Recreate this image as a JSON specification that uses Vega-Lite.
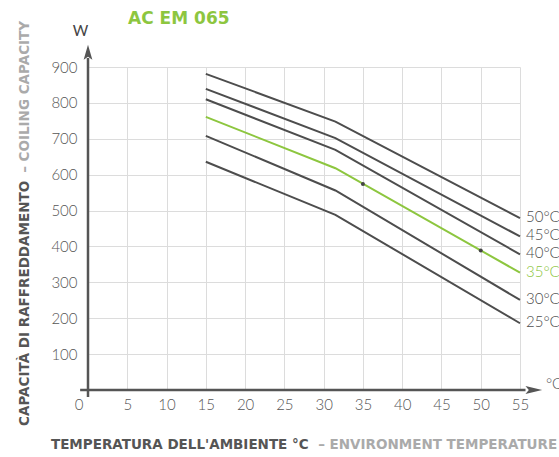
{
  "$schema": "https://vega.github.io/schema/vega-lite/v6.json",
  "width": 432,
  "height": 323,
  "autosize": "none",
  "padding": {"left": 88, "top": 67, "right": 39, "bottom": 67},
  "background": "white",
  "config": {"view": {"stroke": null}, "axis": {"labelOverlap": false, "labelFlush": false}},
  "datasets": {
    "curves": [
      {"series": "50°C", "temp": 15, "watt": 881},
      {"series": "50°C", "temp": 31.5, "watt": 748},
      {"series": "50°C", "temp": 55, "watt": 479},
      {"series": "45°C", "temp": 15, "watt": 839},
      {"series": "45°C", "temp": 31.5, "watt": 702},
      {"series": "45°C", "temp": 55, "watt": 428},
      {"series": "40°C", "temp": 15, "watt": 810},
      {"series": "40°C", "temp": 31.5, "watt": 669},
      {"series": "40°C", "temp": 55, "watt": 378},
      {"series": "35°C", "temp": 15, "watt": 761},
      {"series": "35°C", "temp": 31.5, "watt": 618},
      {"series": "35°C", "temp": 55, "watt": 327},
      {"series": "30°C", "temp": 15, "watt": 708},
      {"series": "30°C", "temp": 31.5, "watt": 556},
      {"series": "30°C", "temp": 55, "watt": 251},
      {"series": "25°C", "temp": 15, "watt": 636},
      {"series": "25°C", "temp": 31.5, "watt": 488},
      {"series": "25°C", "temp": 55, "watt": 186}
    ],
    "dots": [
      {"temp": 35, "watt": 574},
      {"temp": 50, "watt": 389}
    ],
    "one": [{}]
  },
  "encoding": {
    "x": {
      "type": "quantitative",
      "scale": {"domain": [0, 55], "nice": false, "zero": false},
      "axis": {
        "values": [0, 5, 10, 15, 20, 25, 30, 35, 40, 45, 50, 55],
        "tickCount": 12,
        "title": null, "domain": false, "ticks": false,
        "grid": true, "gridColor": "#dcdcdc", "gridWidth": 1,
        "labelFont": "Lato", "labelFontWeight": 300, "labelFontSize": 15, "labelColor": "#555555",
        "labelPadding": 7, "labelFlush": false, "labelOverlap": false,
        "labelOffset": {"condition": {"test": "datum.value === 0", "value": -9.5}, "value": 0}
      }
    },
    "y": {
      "type": "quantitative",
      "scale": {"domain": [0, 900], "nice": false, "zero": false},
      "axis": {
        "values": [100, 200, 300, 400, 500, 600, 700, 800, 900],
        "title": null, "domain": false, "ticks": false,
        "grid": true, "gridColor": "#dcdcdc", "gridWidth": 1,
        "labelFont": "Lato", "labelFontWeight": 300, "labelFontSize": 15, "labelColor": "#555555",
        "labelPadding": 11, "labelOverlap": false
      }
    }
  },
  "layer": [
    {
      "data": {"name": "curves"},
      "mark": {"type": "line", "strokeWidth": 2},
      "encoding": {
        "x": {"field": "temp"},
        "y": {"field": "watt"},
        "color": {
          "field": "series", "type": "nominal",
          "scale": {"domain": ["50°C", "45°C", "40°C", "35°C", "30°C", "25°C"],
                    "range": ["#4d4d4d", "#4d4d4d", "#4d4d4d", "#8dc63f", "#4d4d4d", "#4d4d4d"]},
          "legend": null
        }
      }
    },
    {
      "data": {"name": "curves"},
      "transform": [{"filter": "datum.temp === 55"}],
      "mark": {"type": "text", "align": "left", "baseline": "middle", "dx": 6, "dy": -1, "font": "Lato", "fontWeight": 300, "fontSize": 15},
      "encoding": {
        "x": {"field": "temp"},
        "y": {"field": "watt"},
        "text": {"field": "series"},
        "color": {"field": "series", "type": "nominal"}
      }
    },
    {
      "data": {"name": "dots"},
      "mark": {"type": "point", "filled": true, "size": 16, "color": "#444444", "opacity": 1},
      "encoding": {
        "x": {"field": "temp"},
        "y": {"field": "watt"}
      }
    },
    {
      "data": {"name": "one"},
      "mark": {"type": "rule", "color": "#555555", "strokeWidth": 2.5},
      "encoding": {
        "x": {"datum": -1, "type": "quantitative"},
        "x2": {"datum": 55.7},
        "y": {"datum": 0, "type": "quantitative"}
      }
    },
    {
      "data": {"name": "one"},
      "mark": {"type": "rule", "color": "#555555", "strokeWidth": 2.5},
      "encoding": {
        "x": {"datum": 0, "type": "quantitative"},
        "y": {"datum": -19.5, "type": "quantitative"},
        "y2": {"datum": 925}
      }
    },
    {
      "data": {"name": "one"},
      "mark": {"type": "point", "filled": true, "opacity": 1, "color": "#555555", "size": 279,
               "shape": "M-1,-0.48L1,0L-1,0.48L-0.6,0Z"},
      "encoding": {
        "x": {"datum": 56.76, "type": "quantitative"},
        "y": {"datum": 0, "type": "quantitative"}
      }
    },
    {
      "data": {"name": "one"},
      "mark": {"type": "point", "filled": true, "opacity": 1, "color": "#555555", "size": 225,
               "shape": "M-0.58,1L0,-1L0.58,1L0,0.6Z"},
      "encoding": {
        "x": {"datum": 0, "type": "quantitative"},
        "y": {"datum": 941, "type": "quantitative"}
      }
    },
    {
      "data": {"name": "one"},
      "mark": {"type": "text", "text": "W", "align": "center", "baseline": "middle", "font": "Lato", "fontSize": 15, "color": "#444444"},
      "encoding": {
        "x": {"datum": -0.96, "type": "quantitative"},
        "y": {"datum": 1000, "type": "quantitative"}
      }
    },
    {
      "data": {"name": "one"},
      "mark": {"type": "text", "text": "°C", "align": "left", "baseline": "middle", "font": "Lato", "fontWeight": 300, "fontSize": 15, "color": "#555555"},
      "encoding": {
        "x": {"datum": 58.3, "type": "quantitative"},
        "y": {"datum": 16.7, "type": "quantitative"}
      }
    },
    {
      "data": {"name": "one"},
      "mark": {"type": "text", "text": "AC EM 065", "align": "left", "baseline": "middle", "font": "DejaVu Sans", "fontWeight": "bold", "fontSize": 17, "color": "#8dc63f"},
      "encoding": {
        "x": {"datum": 5.1, "type": "quantitative"},
        "y": {"datum": 1035, "type": "quantitative"}
      }
    },
    {
      "data": {"name": "one"},
      "mark": {"type": "text", "text": "TEMPERATURA DELL'AMBIENTE °C", "align": "left", "baseline": "middle", "font": "DejaVu Sans", "fontWeight": "bold", "fontSize": 13.5, "color": "#555555"},
      "encoding": {
        "x": {"datum": -4.72, "type": "quantitative"},
        "y": {"datum": -153.4, "type": "quantitative"}
      }
    },
    {
      "data": {"name": "one"},
      "mark": {"type": "text", "text": "– ENVIRONMENT TEMPERATURE", "align": "left", "baseline": "middle", "font": "DejaVu Sans", "fontWeight": "bold", "fontSize": 13.5, "color": "#aaaaaa"},
      "encoding": {
        "x": {"datum": 29.3, "type": "quantitative"},
        "y": {"datum": -153.4, "type": "quantitative"}
      }
    },
    {
      "data": {"name": "one"},
      "mark": {"type": "text", "text": "CAPACITÀ DI RAFFREDDAMENTO", "angle": 270, "align": "left", "baseline": "middle", "font": "DejaVu Sans", "fontWeight": "bold", "fontSize": 13.5, "color": "#555555"},
      "encoding": {
        "x": {"datum": -8.03, "type": "quantitative"},
        "y": {"datum": -100, "type": "quantitative"}
      }
    },
    {
      "data": {"name": "one"},
      "mark": {"type": "text", "text": "– COILING CAPACITY", "angle": 270, "align": "left", "baseline": "middle", "font": "DejaVu Sans", "fontWeight": "bold", "fontSize": 13.5, "color": "#aaaaaa"},
      "encoding": {
        "x": {"datum": -8.03, "type": "quantitative"},
        "y": {"datum": 605, "type": "quantitative"}
      }
    }
  ]
}
